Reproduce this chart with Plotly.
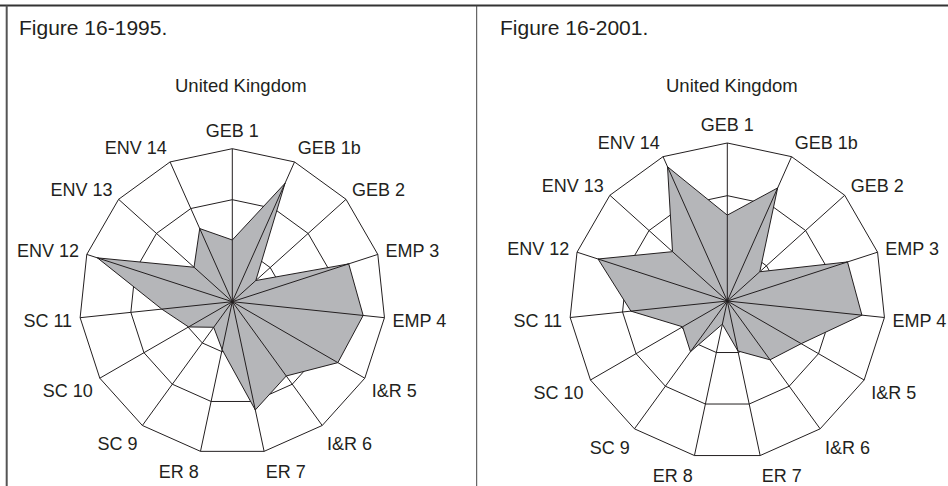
import plotly.graph_objects as go

categories = ["GEB 1", "GEB 1b", "GEB 2", "EMP 3", "EMP 4", "I&R 5", "I&R 6",
              "ER 7", "ER 8", "SC 9", "SC 10", "SC 11", "ENV 12", "ENV 13", "ENV 14"]
values_1995 = [1.21, 2.54, 0.62, 2.40, 2.58, 2.39, 1.80, 2.17, 0.96, 0.62, 0.99, 1.39, 2.78, 1.01, 1.57]
values_2001 = [1.63, 2.35, 0.83, 2.40, 2.57, 1.62, 1.38, 0.97, 0.45, 1.19, 0.98, 1.84, 2.58, 1.40, 2.79]
panel_titles = ["Figure 16-1995.", "Figure 16-2001."]
chart_title = "United Kingdom"
ring_ticks = [1, 2, 3]

W, H = 948, 486
INK = "#231f20"
FILL = "#b5b6b9"
FONT = "Liberation Sans, Arial, Helvetica, sans-serif"

fig = go.Figure()

def add_panel(vals, subplot):
    rr = vals + [vals[0]]
    tt = categories + [categories[0]]
    fig.add_trace(go.Scatterpolar(r=rr, theta=tt, mode="lines", fill="toself",
                                  fillcolor=FILL, line=dict(color=INK, width=1),
                                  subplot=subplot, showlegend=False, hoverinfo="skip"))
    for c, v in zip(categories, vals):
        fig.add_trace(go.Scatterpolar(r=[0, v], theta=[c, c], mode="lines",
                                      line=dict(color=INK, width=1),
                                      subplot=subplot, showlegend=False, hoverinfo="skip"))
    fig.add_trace(go.Scatterpolar(r=[0], theta=[categories[0]], mode="markers",
                                  marker=dict(color=INK, size=4),
                                  subplot=subplot, showlegend=False, hoverinfo="skip"))

add_panel(values_1995, "polar")
add_panel(values_2001, "polar2")

def px_domain(cx, cy, R):
    return dict(x=[(cx - R) / W, (cx + R) / W], y=[1 - (cy + R) / H, 1 - (cy - R) / H])

def polar_layout(dom):
    return dict(
        domain=dom,
        gridshape="linear",
        bgcolor="white",
        radialaxis=dict(range=[0, 3], tickvals=ring_ticks, showticklabels=False, ticks="",
                        showline=False, gridcolor=INK, gridwidth=1),
        angularaxis=dict(categoryorder="array", categoryarray=categories,
                         rotation=90, direction="clockwise", showline=True,
                         linecolor=INK, linewidth=1, gridcolor=INK, gridwidth=1,
                         ticks="outside", ticklen=4, tickcolor="rgba(0,0,0,0)",
                         tickfont=dict(family=FONT, size=18, color=INK)),
    )

annotations = [
    dict(text=panel_titles[0], x=17 / W, y=1 - 28 / H, xanchor="left", yanchor="middle",
         showarrow=False, font=dict(family=FONT, size=21, color=INK)),
    dict(text=panel_titles[1], x=498 / W, y=1 - 28 / H, xanchor="left", yanchor="middle",
         showarrow=False, font=dict(family=FONT, size=21, color=INK)),
    dict(text=chart_title, x=241 / W, y=1 - 86 / H, xanchor="center", yanchor="middle",
         showarrow=False, font=dict(family=FONT, size=18.5, color=INK)),
    dict(text=chart_title, x=732 / W, y=1 - 85 / H, xanchor="center", yanchor="middle",
         showarrow=False, font=dict(family=FONT, size=18.5, color=INK)),
]

shapes = [
    dict(type="line", xref="paper", yref="paper", x0=0, x1=1, y0=1 - 5.5 / H, y1=1 - 5.5 / H,
         line=dict(color="#333333", width=2)),
    dict(type="line", xref="paper", yref="paper", x0=6.7 / W, x1=6.7 / W, y0=0, y1=1 - 5.5 / H,
         line=dict(color="#555555", width=2)),
    dict(type="line", xref="paper", yref="paper", x0=476.7 / W, x1=476.7 / W, y0=0, y1=1 - 5.5 / H,
         line=dict(color="#444444", width=1)),
]

fig.update_layout(
    width=W, height=H,
    margin=dict(l=0, r=0, t=0, b=0),
    paper_bgcolor="white",
    font=dict(family=FONT, color=INK),
    polar=polar_layout(px_domain(232.3, 301.7, 153)),
    polar2=polar_layout(px_domain(727.3, 301.0, 158)),
    annotations=annotations,
    shapes=shapes,
    showlegend=False,
)

fig.write_html("out.html", config={"displayModeBar": False, "staticPlot": True},
               post_script="document.body.style.margin='0px';document.body.style.overflow='hidden';")
